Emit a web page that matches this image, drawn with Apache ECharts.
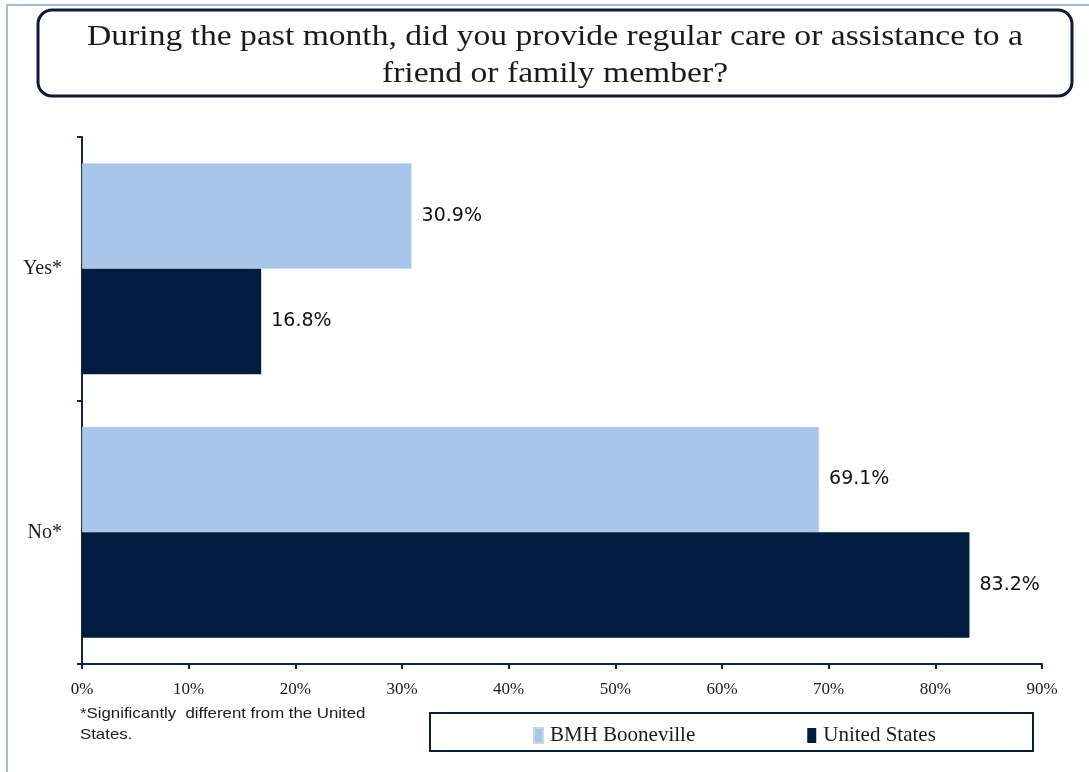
<!DOCTYPE html>
<html>
<head>
<meta charset="utf-8">
<script src="https://cdn.jsdelivr.net/npm/echarts@6/dist/echarts.min.js"></script>
<style>html,body{margin:0;padding:0;background:#fff}#c{width:1089px;height:772px}</style>
</head>
<body>
<div id="c"></div>
<script>
const titleText = 'During the past month, did you provide regular care or assistance to a\nfriend or family member?';
const categories = ['Yes*', 'No*'];
const seriesNames = ['BMH Booneville', 'United States'];
const booneville = [30.9, 69.1];
const unitedStates = [16.8, 83.2];
const footnote = '*Significantly  different from the United\nStates.';

const chart = echarts.init(document.getElementById('c'), null, {renderer: 'canvas'});
const axisColor = '#0f2644';
const serif = '"Liberation Serif", "DejaVu Serif", serif';
chart.setOption({
  animation: false,
  backgroundColor: '#ffffff',
  color: ['#a8c6ea', '#001d40'],
  legend: {
    data: seriesNames,
    left: 528, top: 720,
    itemWidth: 9, itemHeight: 15, itemGap: 112,
    icon: 'rect',
    textStyle: {fontFamily: serif, fontSize: 21, color: '#1a1a1a', padding: [0, 0, 0, 2]}
  },
  grid: {left: 82, right: 47, top: 137, bottom: 108, containLabel: false},
  xAxis: {
    type: 'value', min: 0, max: 90, interval: 10,
    axisLine: {show: true, lineStyle: {color: axisColor, width: 2}},
    axisTick: {show: true, length: 5, lineStyle: {color: axisColor, width: 2}},
    splitLine: {show: false},
    axisLabel: {formatter: '{value}%', fontFamily: serif, fontSize: 17, color: '#1a1a1a', margin: 17}
  },
  yAxis: {
    type: 'category', data: categories, inverse: true,
    axisLine: {show: true, lineStyle: {color: axisColor, width: 2}},
    axisTick: {show: true, length: 5, lineStyle: {color: axisColor, width: 2}},
    axisLabel: {fontFamily: serif, fontSize: 20, color: '#1a1a1a', margin: 20}
  },
  series: [
    {name: seriesNames[0], type: 'bar', data: booneville, barCategoryGap: '20%', barGap: '0%',
     itemStyle: {borderColor: '#c8d8ec', borderWidth: 0.5},
     label: {show: true, position: 'right', distance: 10, formatter: '{c}%', fontFamily: '"DejaVu Sans", sans-serif', fontSize: 19, color: '#111'}},
    {name: seriesNames[1], type: 'bar', data: unitedStates, barCategoryGap: '20%', barGap: '0%',
     label: {show: true, position: 'right', distance: 10, formatter: '{c}%', fontFamily: '"DejaVu Sans", sans-serif', fontSize: 19, color: '#111'}}
  ],
  graphic: [
    {type: 'line', shape: {x1: 6, y1: 5, x2: 1089, y2: 5}, style: {stroke: '#9fbcdc', lineWidth: 2}, silent: true},
    {type: 'line', shape: {x1: 7, y1: 4, x2: 7, y2: 772}, style: {stroke: '#9fbcdc', lineWidth: 2}, silent: true},
    {type: 'rect', shape: {x: 38, y: 10, width: 1034, height: 86, r: 14}, style: {fill: null, stroke: '#0c1c33', lineWidth: 3}, silent: true, z: 10},
    {type: 'text', x: 555, y: 19, scaleX: 1.12, style: {text: titleText, font: '30px "Liberation Serif", serif', lineHeight: 37, fill: '#1a1a1a', align: 'center', textAlign: 'center'}, silent: true},
    {type: 'rect', shape: {x: 430, y: 713, width: 603, height: 38}, style: {fill: null, stroke: '#0c1c33', lineWidth: 2}, silent: true},
    {type: 'text', x: 80, y: 703, scaleX: 1.12, style: {text: footnote, font: '15px "Liberation Sans", Arial, sans-serif', lineHeight: 21, fill: '#1a1a1a'}, silent: true}
  ]
});
</script>
</body>
</html>
